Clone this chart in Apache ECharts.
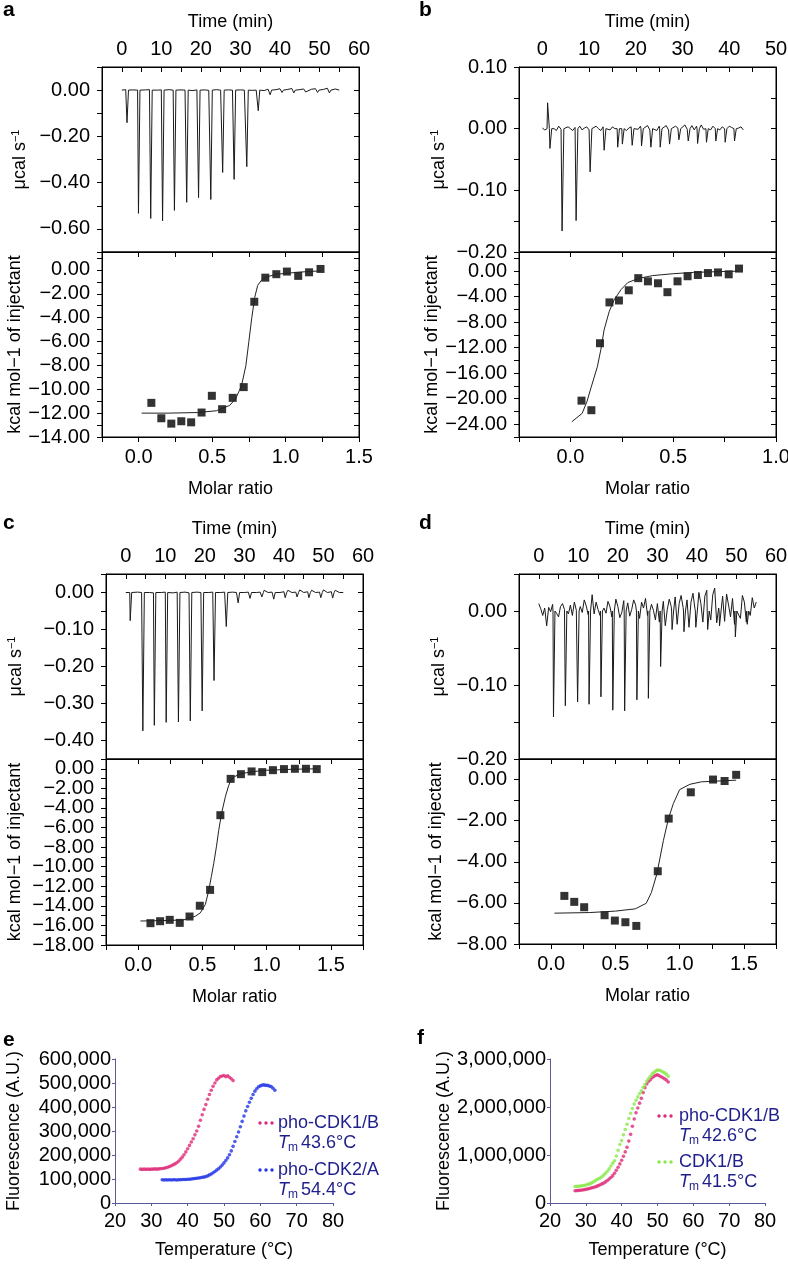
<!DOCTYPE html>
<html>
<head>
<meta charset="utf-8">
<script src="https://cdn.jsdelivr.net/npm/echarts@6/dist/echarts.min.js"></script>
<style>
  html, body { margin: 0; padding: 0; background: #fff; }
  #chart { width: 788px; height: 1265px; }
</style>
</head>
<body>
<div id="chart"></div>
<script>
// ---------- data ----------
// a: raw heat (µcal/s), injections and baseline (1 min steps from t = 0)
const aInjTime = [1.2, 4.1, 7.2, 10.2, 13.2, 16.3, 19.3, 22.4, 25.4, 28.3, 31.5, 34.4, 37.4, 40.4, 43.4, 46.4, 49.4, 52.4]
const aInjPeak = [-0.141, -0.533, -0.555, -0.565, -0.52, -0.485, -0.465, -0.473, -0.356, -0.386, -0.331, -0.089, -0.02, -0.01, -0.012, -0.008, -0.01, -0.012]
const aBase = [0, 0.002, -0.001, 0.001, 0, -0.002, 0.001, 0.002, -0.001, 0,
  0.001, -0.001, 0.002, 0, -0.001, 0.001, 0, 0.002, -0.002, 0.001,
  0, 0.001, -0.001, 0, 0.002, 0, -0.001, 0.001, 0, -0.002,
  0.001, 0, 0.002, -0.001, 0, 0.001, -0.002, 0.004, -0.003, 0.002,
  0.006, -0.004, 0.003, 0.007, -0.005, 0.002, 0.005, -0.003, 0.004, 0.006,
  -0.004, 0.003, 0.008, -0.002, 0.005, 0]
// a: integrated heats (kcal/mol of injectant) and fit
const aRatio = [0.086, 0.154, 0.222, 0.29, 0.357, 0.428, 0.498, 0.568, 0.64, 0.715, 0.787, 0.862, 0.937, 1.009, 1.086, 1.16, 1.238]
const aHeat = [-11.14, -12.43, -12.88, -12.68, -12.77, -11.95, -10.55, -11.67, -10.72, -9.82, -2.67, -0.65, -0.36, -0.14, -0.5, -0.2, 0.08]
const aFitX = [0.02, 0.2, 0.4, 0.53, 0.62, 0.66, 0.7, 0.73, 0.75, 0.77, 0.79, 0.81, 0.84, 0.88, 0.95, 1.1, 1.24]
const aFitY = [-12.0, -12.0, -11.95, -11.8, -11.35, -10.8, -9.7, -8.0, -6.0, -4.0, -2.3, -1.3, -0.8, -0.55, -0.35, -0.18, -0.08]

// b (baseline in 0.5 min steps)
const bInjTime = [1.0, 1.5, 4.1, 7.1, 10.1, 13.1, 16.0, 17.0, 19.1, 21.1, 23.1, 25.1, 27.1, 29.1, 31.1, 33.1, 35.0, 37.0, 39.0, 41.0]
const bInjPeak = [0.042, -0.032, -0.166, -0.149, -0.07, -0.035, -0.03, -0.025, -0.027, -0.028, -0.03, -0.03, -0.025, -0.018, -0.02, -0.024, -0.022, -0.02, -0.022, -0.02]
const bBase = [0.001, -0.002, 0.003, -0.001, 0.002, 0, -0.003, 0.004, -0.001, 0.002,
  -0.002, 0.003, 0, -0.003, 0.002, -0.001, 0.004, -0.002, 0.001, 0.003,
  -0.002, 0.002, -0.001, 0.004, 0, -0.003, 0.003, -0.001, 0.002, -0.002,
  0.003, 0, -0.002, 0.004, -0.001, 0.002, -0.003, 0.001, 0.003, -0.002,
  0.002, -0.001, 0.004, -0.002, 0.001, 0.005, -0.002, 0.003, 0, -0.003,
  0.004, -0.001, 0.002, 0.005, -0.002, 0.003, -0.001, 0.004, 0.001, -0.002,
  0.003, 0.006, -0.001, 0.002, 0.005, -0.002, 0.004, 0, 0.006, -0.001,
  0.003, 0.005, -0.002, 0.004, 0.001, 0.006, -0.002, 0.003, 0.005, -0.001,
  0.004, 0.002, -0.002, 0.005, 0.001, 0.003, -0.002]
const bRatio = [0.054, 0.102, 0.144, 0.19, 0.236, 0.284, 0.33, 0.377, 0.426, 0.472, 0.521, 0.57, 0.62, 0.669, 0.718, 0.77, 0.82]
const bHeat = [-20.3, -21.8, -11.3, -4.9, -4.6, -3.0, -1.1, -1.6, -1.9, -3.3, -1.6, -0.8, -0.6, -0.3, -0.2, -0.5, 0.4]
const bFitX = [0.007, 0.057, 0.08, 0.1, 0.131, 0.148, 0.164, 0.189, 0.213, 0.246, 0.279, 0.33, 0.4, 0.5, 0.6, 0.7, 0.82]
const bFitY = [-23.6, -22.3, -20.5, -18.3, -15.0, -12.3, -9.2, -6.3, -4.5, -2.9, -1.8, -1.15, -0.7, -0.4, -0.2, -0.1, 0.0]

// c (baseline in 1 min steps)
const cInjTime = [1.0, 4.2, 7.1, 10.1, 13.2, 16.2, 19.2, 22.2, 25.3, 28.3, 31.3, 34.3, 37.3, 40.2, 43.2, 46.2, 49.2, 52.2]
const cInjPeak = [-0.076, -0.374, -0.359, -0.351, -0.35, -0.347, -0.32, -0.238, -0.092, -0.028, -0.016, -0.012, -0.018, -0.014, -0.012, -0.014, -0.014, -0.015]
const cBase = [0, 0.001, -0.001, 0.001, 0, 0.001, 0, -0.001, 0.001, 0,
  0.001, 0, -0.001, 0.001, 0, 0.001, -0.001, 0, 0.001, 0,
  0.004, 0, 0.001, -0.001, 0, 0.001, 0, 0.001, 0, 0.002,
  0, 0.001, 0.005, 0, 0.001, 0.006, 0, 0.001, 0.005, 0,
  0.002, 0.006, 0, 0.001, 0.007, 0, 0.002, 0.006, 0, 0.001,
  0.007, 0, 0.002, 0.006, 0, 0]
const cRatio = [0.096, 0.171, 0.246, 0.324, 0.40, 0.48, 0.56, 0.64, 0.72, 0.80, 0.883, 0.966, 1.049, 1.135, 1.22, 1.306, 1.39]
const cHeat = [-15.77, -15.57, -15.43, -15.74, -15.09, -13.99, -12.37, -4.74, -1.03, -0.55, -0.27, -0.34, -0.14, -0.03, 0, 0, -0.03]
const cFitX = [0.018, 0.2, 0.35, 0.445, 0.484, 0.523, 0.549, 0.57, 0.588, 0.61, 0.627, 0.65, 0.68, 0.705, 0.725, 0.75, 0.8, 0.9, 1.0, 1.2, 1.39]
const cFitY = [-15.55, -15.5, -15.45, -15.06, -14.72, -13.86, -12.48, -11.0, -9.7, -7.9, -6.3, -4.5, -2.8, -1.7, -1.1, -0.8, -0.5, -0.28, -0.15, -0.05, 0]

// d (baseline in 0.5 min steps, noisy)
const dInjTime = [3.6, 6.6, 9.7, 12.6, 15.6, 18.6, 21.6, 24.7, 27.6, 30.7, 33.6, 36.6, 39.6, 42.6, 45.6, 49.6, 52.6]
const dInjPeak = [-0.143, -0.128, -0.123, -0.126, -0.116, -0.134, -0.135, -0.12, -0.118, -0.075, -0.025, -0.028, -0.022, -0.025, -0.02, -0.035, -0.018]
const dBase = [0.010, 0.003, -0.006, 0.004, -0.020, 0.005, -0.001, 0.009, 0.004, -0.003,
  -0.008, 0.006, 0.010, 0.002, -0.010, -0.004, 0.008, -0.006, 0.012, 0.001,
  -0.012, 0.006, -0.002, 0.015, 0.007, -0.005, 0.003, 0.022, -0.004, 0.012,
  0.002, -0.006, 0.018, 0.004, -0.003, 0.013, 0.006, -0.008, 0.009, 0.016,
  0.006, -0.009, -0.002, 0.014, 0.003, 0.011, -0.007, 0.002, 0.015, 0.008,
  -0.002, -0.010, 0.012, 0.004, 0.017, -0.006, -0.003, 0.009, 0.001, -0.012,
  0.010, -0.015, 0.004, 0.013, -0.020, 0.002, 0.016, 0.006, -0.012, 0.019,
  -0.018, 0.010, 0.021, 0.005, -0.008, 0.015, -0.022, 0.012, 0.024, 0.003,
  -0.006, 0.025, 0.010, -0.015, 0.020, 0.028, 0.006, -0.012, 0.022, 0.031,
  -0.016, 0.004, 0.026, 0.020, -0.014, 0.023, 0.008, -0.008, 0.017, -0.018,
  0.015, 0.002, -0.010, 0.021, 0.012, -0.015, 0.024, -0.006, 0.018, 0.004,
  0.012]
const dRatio = [0.103, 0.18, 0.257, 0.416, 0.496, 0.578, 0.663, 0.83, 0.915, 1.087, 1.26, 1.35, 1.44]
const dHeat = [-5.66, -5.95, -6.21, -6.6, -6.86, -6.94, -7.12, -4.46, -1.9, -0.62, 0, -0.07, 0.23]
const dFitX = [0.026, 0.3, 0.5, 0.655, 0.74, 0.78, 0.823, 0.874, 0.913, 0.951, 1.0, 1.08, 1.17, 1.44]
const dFitY = [-6.5, -6.47, -6.4, -6.29, -6.02, -5.5, -4.59, -2.96, -1.9, -1.17, -0.49, -0.23, -0.11, -0.03]

// e, f: thermal shift, fluorescence in thousands, readings every 0.5 °C
const tempStep = 0.5
const ePhoCdk1Start = 27
const ePhoCdk1 = [141, 140, 141, 140, 141, 140, 141, 141, 142, 141, 142, 143, 144, 145, 147, 149, 152, 155, 159, 163,
  168, 174, 182, 191, 201, 213, 226, 240, 254, 268, 284, 300, 320, 345, 368, 390, 410, 432, 452, 470,
  486, 500, 513, 520, 527, 529, 531, 526, 530, 524, 518, 510]
const ePhoCdk2Start = 33
const ePhoCdk2 = [97, 96, 97, 96, 97, 96, 97, 97, 96, 97, 97, 98, 98, 98, 99, 99, 100, 101, 102, 103,
  104, 105, 107, 108, 110, 113, 117, 121, 126, 131, 137, 143, 150, 158, 167, 177, 188, 201, 217, 236,
  256, 276, 296, 318, 340, 362, 384, 402, 420, 436, 452, 466, 476, 484, 488, 491, 492, 490, 490, 487,
  485, 478, 470]
const fStart = 27
const fPhoCdk1 = [255, 258, 262, 266, 271, 277, 284, 292, 301, 311, 322, 334, 346, 362, 380, 398, 415, 440, 468, 500,
  530, 570, 620, 680, 745, 815, 890, 975, 1065, 1160, 1290, 1430, 1600, 1750, 1880, 1980, 2080, 2180, 2300, 2400,
  2480, 2530, 2570, 2610, 2635, 2660, 2670, 2650, 2630, 2610, 2585, 2560, 2520]
const fCdk1 = [345, 347, 350, 354, 358, 365, 374, 385, 398, 414, 435, 458, 482, 505, 520, 548, 580, 620, 660, 710,
  770, 830, 880, 980, 1100, 1220, 1300, 1420, 1530, 1640, 1760, 1870, 1970, 2060, 2140, 2210, 2280, 2340, 2410, 2470,
  2540, 2590, 2640, 2690, 2720, 2750, 2770, 2765, 2750, 2730, 2710, 2680, 2640]

// ---------- helpers ----------
const FONT = '"Liberation Sans", Arial, Helvetica, sans-serif'
const grids = [], xAxes = [], yAxes = [], series = [], graphics = []

function zip(xs, ys) { return xs.map((x, i) => [x, ys[i]]) }

// baseline samples plus one spike per injection
function thermogram(base, step, injTime, injPeak) {
  const pts = []
  base.forEach((v, i) => {
    const t = i * step
    if (injTime.some(s => t > s - 0.01 && t <= s + 0.5)) return
    pts.push([t, v])
  })
  injTime.forEach((s, k) => {
    pts.push([s, 0], [s + 0.12, injPeak[k]], [s + 0.5, 0])
  })
  return pts.sort((p, q) => p[0] - q[0])
}

function lbl(step, digits, nonNeg) {
  return function (v) {
    if (Math.abs(Math.round(v / step) * step - v) > 1e-6) return ''
    if (nonNeg && v < -1e-6) return ''
    const s = Math.abs(v).toFixed(digits)
    return v < -1e-6 ? '\u2212' + s : s
  }
}

function withCommas(v) {
  return String(Math.round(v)).replace(/\B(?=(\d{3})+(?!\d))/g, ',')
}

function axis(gi, pos, range, interval, opts) {
  return Object.assign({
    gridIndex: gi,
    type: 'value',
    position: pos,
    min: range[0],
    max: range[1],
    interval: interval,
    splitLine: { show: false },
    axisLine: { show: true, onZero: false, lineStyle: { color: '#000', width: 1 } },
    axisTick: { show: true, inside: false, length: 5, lineStyle: { color: '#000', width: 1 } },
    axisLabel: { show: false }
  }, opts)
}

const tickText = { color: '#000', fontSize: 20, fontFamily: FONT }
const titleText = { color: '#000', fontSize: 18, fontFamily: FONT }
const inTick = { show: true, inside: true, length: 5, lineStyle: { color: '#000', width: 1 } }

function addItc(p) {
  const g = grids.length
  const box = { show: true, borderColor: '#000', borderWidth: 1, backgroundColor: 'transparent', outerBoundsMode: 'none' }
  grids.push(Object.assign({ left: p.left, top: p.top, width: p.w, height: p.h1 }, box))
  grids.push(Object.assign({ left: p.left, top: p.top + p.h1, width: p.w, height: p.h2 }, box))
  const xi = xAxes.length, yi = yAxes.length

  // upper plot: raw heat vs time
  xAxes.push(axis(g, 'top', p.time, 5, {
    axisTick: inTick,
    axisLabel: Object.assign({ show: true, margin: 8, showMinLabel: true, showMaxLabel: true, formatter: lbl(10, 0, true) }, tickText),
    name: 'Time (min)', nameLocation: 'middle', nameGap: 36, nameTextStyle: titleText
  }))
  yAxes.push(axis(g, 'left', p.rawY, p.rawInt, {
    axisLabel: Object.assign({ show: true, margin: 12, showMinLabel: true, showMaxLabel: true, formatter: lbl(p.rawLbl, 2) }, tickText),
    name: '{a|\u03bccal s}{b|\u22121}', nameLocation: 'middle', nameRotate: 90, nameGap: p.gaps[0],
    nameTextStyle: {
      color: '#000', fontSize: 18, fontFamily: FONT,
      rich: {
        a: { color: '#000', fontSize: 18, fontFamily: FONT, lineHeight: 20 },
        b: { color: '#000', fontSize: 11, fontFamily: FONT, lineHeight: 12, verticalAlign: 'top' }
      }
    }
  }))
  yAxes.push(axis(g, 'right', p.rawY, p.rawInt, { axisTick: inTick }))

  // lower plot: integrated heats vs molar ratio
  xAxes.push(axis(g + 1, 'bottom', p.ratio, 0.25, {
    axisLabel: Object.assign({ show: true, margin: 10, showMinLabel: true, showMaxLabel: true, formatter: lbl(0.5, 1, true) }, tickText),
    name: 'Molar ratio', nameLocation: 'middle', nameGap: 43, nameTextStyle: titleText
  }))
  xAxes.push(axis(g + 1, 'top', p.ratio, 0.25, { axisTick: inTick }))
  yAxes.push(axis(g + 1, 'left', p.heatY, p.heatInt, {
    axisLabel: Object.assign({ show: true, margin: 12, showMinLabel: true, showMaxLabel: true, formatter: lbl(p.heatLbl, 2) }, tickText),
    name: 'kcal mol\u22121 of injectant', nameLocation: 'middle', nameRotate: 90, nameGap: p.gaps[1], nameTextStyle: titleText
  }))
  yAxes.push(axis(g + 1, 'right', p.heatY, p.heatInt, { axisTick: inTick }))

  series.push({
    type: 'line', xAxisIndex: xi, yAxisIndex: yi, data: p.raw,
    symbol: 'none', lineStyle: { color: '#1a1a1a', width: 1 }, silent: true
  })
  series.push({
    type: 'line', xAxisIndex: xi + 1, yAxisIndex: yi + 2, data: p.fit,
    symbol: 'none', lineStyle: { color: '#222', width: 1 }, silent: true
  })
  series.push({
    type: 'scatter', xAxisIndex: xi + 1, yAxisIndex: yi + 2, data: p.pts,
    symbol: 'rect', symbolSize: 8, itemStyle: { color: '#000' }, silent: true
  })

  graphics.push({
    type: 'text', x: p.letter[1], y: p.letter[2],
    style: { text: p.letter[0], fill: '#000', fontSize: 21, fontWeight: 'bold', fontFamily: FONT, verticalAlign: 'top' }
  })
}

const meltAxisColor = '#5a5a98'
const legendColor = '#1f1f8c'

function addMelt(p) {
  const g = grids.length
  grids.push({ left: p.left, top: p.top, width: p.w, height: p.h, show: false, outerBoundsMode: 'none' })
  const xi = xAxes.length, yi = yAxes.length
  const line = { show: true, onZero: false, lineStyle: { color: meltAxisColor, width: 1 } }
  const tick = { show: true, inside: false, length: 3, lineStyle: { color: meltAxisColor, width: 1 } }
  xAxes.push(axis(g, 'bottom', [20, 80], 10, {
    axisLine: line, axisTick: tick,
    axisLabel: { show: true, margin: 8, color: '#000', fontSize: 20, fontFamily: FONT },
    name: 'Temperature (\u00b0C)', nameLocation: 'middle', nameGap: 38,
    nameTextStyle: { color: '#000', fontSize: 18, fontFamily: FONT }
  }))
  yAxes.push(axis(g, 'left', [0, p.yMax], p.yInt, {
    axisLine: line, axisTick: tick,
    axisLabel: { show: true, margin: 4, color: '#000', fontSize: 20, fontFamily: FONT, formatter: withCommas },
    name: 'Fluorescence (A.U.)', nameLocation: 'middle', nameRotate: 90, nameGap: p.nameGap,
    nameTextStyle: { color: '#000', fontSize: 18, fontFamily: FONT }
  }))
  p.sets.forEach(s => {
    series.push({
      type: 'scatter', xAxisIndex: xi, yAxisIndex: yi,
      data: s.vals.map((v, i) => [s.start + i * tempStep, v * 1000]),
      symbol: 'circle', symbolSize: 3.6, itemStyle: { color: s.color }, silent: true
    })
    // legend entry: dotted marker, name, Tm line
    const lx = s.leg[0], ly = s.leg[1], tx = s.leg[2]
    ;[0, 6, 12].forEach(dx => graphics.push({
      type: 'circle', shape: { cx: lx + dx + 2, cy: ly, r: 1.7 }, style: { fill: s.color }, silent: true
    }))
    const txt = (text, x, y, extra) => graphics.push({
      type: 'text', x: x, y: y,
      style: Object.assign({ text: text, fill: legendColor, fontSize: 18, fontFamily: FONT, verticalAlign: 'middle' }, extra)
    })
    txt(s.name, tx, ly)
    txt('T', tx, ly + 20, { fontStyle: 'italic' })
    txt('m', tx + 10, ly + 25, { fontSize: 12 })
    txt(s.tm, tx + 23, ly + 20)
  })
  graphics.push({
    type: 'text', x: p.letter[1], y: p.letter[2],
    style: { text: p.letter[0], fill: '#000', fontSize: 21, fontWeight: 'bold', fontFamily: FONT, verticalAlign: 'top' }
  })
}

// ---------- panels ----------
addItc({
  letter: ['a', 3, 0], left: 102, top: 67, w: 257, h1: 185, h2: 185, gaps: [72, 74],
  time: [-5, 60], rawY: [-0.7, 0.1], rawInt: 0.1, rawLbl: 0.2,
  ratio: [-0.25, 1.5], heatY: [-14, 1.5], heatInt: 1, heatLbl: 2,
  raw: thermogram(aBase, 1, aInjTime, aInjPeak), fit: zip(aFitX, aFitY), pts: zip(aRatio, aHeat)
})
addItc({
  letter: ['b', 419, 0], left: 519, top: 67, w: 257, h1: 185, h2: 185, gaps: [70, 78],
  time: [-5, 50], rawY: [-0.2, 0.1], rawInt: 0.05, rawLbl: 0.1,
  ratio: [-0.25, 1.0], heatY: [-26, 3], heatInt: 2, heatLbl: 4,
  raw: thermogram(bBase, 0.5, bInjTime, bInjPeak), fit: zip(bFitX, bFitY), pts: zip(bRatio, bHeat)
})
addItc({
  letter: ['c', 3, 513], left: 106, top: 574, w: 257, h1: 185, h2: 186, gaps: [80, 82],
  time: [-5, 60], rawY: [-0.45, 0.05], rawInt: 0.05, rawLbl: 0.1,
  ratio: [-0.25, 1.75], heatY: [-18, 1], heatInt: 1, heatLbl: 2,
  raw: thermogram(cBase, 1, cInjTime, cInjPeak), fit: zip(cFitX, cFitY), pts: zip(cRatio, cHeat)
})
addItc({
  letter: ['d', 419, 513], left: 519, top: 574, w: 257, h1: 185, h2: 185, gaps: [70, 74],
  time: [-5, 60], rawY: [-0.2, 0.05], rawInt: 0.05, rawLbl: 0.1,
  ratio: [-0.25, 1.75], heatY: [-8, 1], heatInt: 1, heatLbl: 2,
  raw: thermogram(dBase, 0.5, dInjTime, dInjPeak), fit: zip(dFitX, dFitY), pts: zip(dRatio, dHeat)
})
addMelt({
  letter: ['e', 3, 1030], left: 115, top: 1059, w: 218, h: 144, yMax: 600000, yInt: 100000, nameGap: 92,
  sets: [
    { vals: ePhoCdk1, start: ePhoCdk1Start, color: '#de2a78', name: 'pho-CDK1/B', tm: '43.6\u00b0C', leg: [258, 1123, 278] },
    { vals: ePhoCdk2, start: ePhoCdk2Start, color: '#2235e6', name: 'pho-CDK2/A', tm: '54.4\u00b0C', leg: [258, 1170, 278] }
  ]
})
addMelt({
  letter: ['f', 417, 1028], left: 550, top: 1059, w: 215, h: 144, yMax: 3000000, yInt: 1000000, nameGap: 96,
  sets: [
    { vals: fPhoCdk1, start: fStart, color: '#de2a78', name: 'pho-CDK1/B', tm: '42.6\u00b0C', leg: [657, 1116, 679] },
    { vals: fCdk1, start: fStart, color: '#8ae84a', name: 'CDK1/B', tm: '41.5\u00b0C', leg: [657, 1162, 679] }
  ]
})

const chart = echarts.init(document.getElementById('chart'))
chart.setOption({
  animation: false,
  backgroundColor: '#fff',
  textStyle: { fontFamily: FONT },
  grid: grids,
  xAxis: xAxes,
  yAxis: yAxes,
  series: series,
  graphic: graphics
})
</script>
</body>
</html>
